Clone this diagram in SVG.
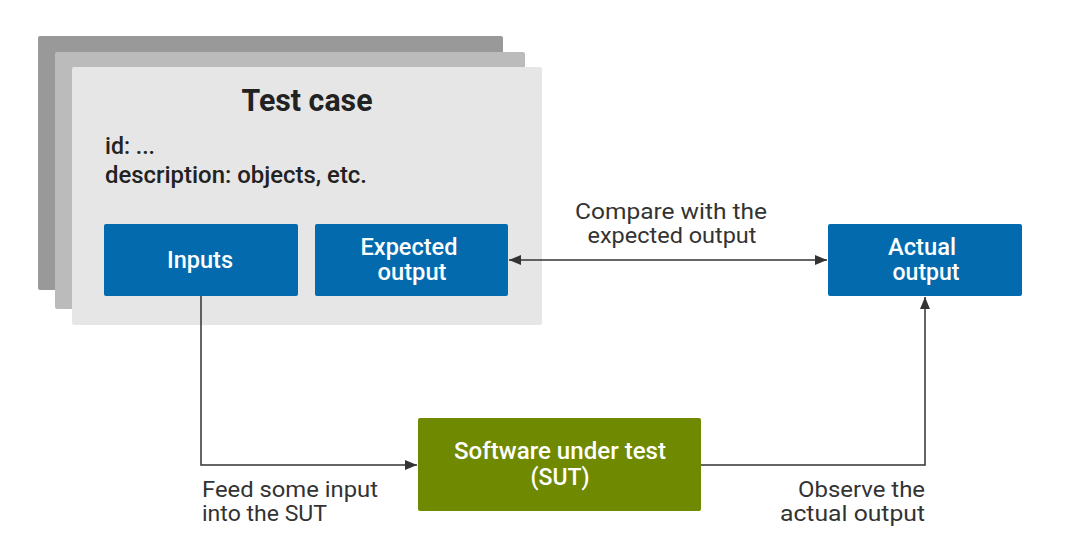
<svg xmlns="http://www.w3.org/2000/svg" width="1092" height="542" viewBox="0 0 1092 542">
<style>
.card{stroke:none}
.blue{fill:#036aae}
.green{fill:#6f8a00}
.lbl{font-family:Roboto,"Liberation Sans",sans-serif;font-weight:500;font-size:23px;fill:#ffffff;text-anchor:middle}
.edge{font-family:Roboto,"Liberation Sans",sans-serif;font-size:22px;fill:#333333}
.body{font-family:Roboto,"Liberation Sans",sans-serif;font-weight:500;font-size:23px;fill:#222222}
.conn{fill:none;stroke:#333333;stroke-width:1.5}
</style>
<defs>
<marker id="ah" viewBox="0 0 12 10" refX="12" refY="5" markerWidth="12" markerHeight="10" markerUnits="userSpaceOnUse" orient="auto-start-reverse">
<path d="M0,0 L12,5 L0,10 Z" fill="#333333"/>
</marker>
</defs>
<rect width="1092" height="542" fill="#ffffff"/>
<g id="testcase">
<rect class="card" x="38" y="36" width="465" height="254" rx="2" fill="#999999"/>
<rect class="card" x="55" y="52" width="470" height="257" rx="2" fill="#bbbbbb"/>
<rect class="card" x="72" y="67" width="470" height="258" rx="2" fill="#e6e6e6"/>
<text x="307" y="111" font-family="Roboto,'Liberation Sans',sans-serif" font-weight="700" font-size="31" fill="#222222" text-anchor="middle" textLength="131" lengthAdjust="spacingAndGlyphs">Test case</text>
<text class="body" x="105" y="154" textLength="50" lengthAdjust="spacingAndGlyphs">id: ...</text>
<text class="body" x="105" y="183" textLength="262" lengthAdjust="spacingAndGlyphs">description: objects, etc.</text>
</g>
<g id="inputs">
<rect class="blue" x="104" y="224" width="194" height="72" rx="2"/>
<text class="lbl" x="200" y="268" textLength="66" lengthAdjust="spacingAndGlyphs">Inputs</text>
</g>
<g id="expected">
<rect class="blue" x="315" y="224" width="193" height="72" rx="2"/>
<text class="lbl" x="409" y="255" textLength="97" lengthAdjust="spacingAndGlyphs">Expected</text>
<text class="lbl" x="412" y="280" textLength="69" lengthAdjust="spacingAndGlyphs">output</text>
</g>
<g id="actual">
<rect class="blue" x="828" y="224" width="194" height="72" rx="2"/>
<text class="lbl" x="922" y="255" textLength="68" lengthAdjust="spacingAndGlyphs">Actual</text>
<text class="lbl" x="926" y="280" textLength="67" lengthAdjust="spacingAndGlyphs">output</text>
</g>
<g id="sut">
<rect class="green" x="418" y="418" width="283" height="93" rx="2"/>
<text class="lbl" x="560" y="459" textLength="212" lengthAdjust="spacingAndGlyphs">Software under test</text>
<text class="lbl" x="560" y="485" textLength="59" lengthAdjust="spacingAndGlyphs">(SUT)</text>
</g>
<g id="connectors">
<line class="conn" x1="509" y1="260" x2="827" y2="260" marker-start="url(#ah)" marker-end="url(#ah)"/>
<polyline class="conn" points="201,296 201,465 417,465" marker-end="url(#ah)"/>
<polyline class="conn" points="701,465 925,465 925,297" marker-end="url(#ah)"/>
<text class="edge" x="671" y="219" text-anchor="middle" textLength="192" lengthAdjust="spacingAndGlyphs">Compare with the</text>
<text class="edge" x="672" y="243" text-anchor="middle" textLength="169" lengthAdjust="spacingAndGlyphs">expected output</text>
<text class="edge" x="202" y="497" textLength="176" lengthAdjust="spacingAndGlyphs">Feed some input</text>
<text class="edge" x="202" y="521" textLength="125" lengthAdjust="spacingAndGlyphs">into the SUT</text>
<text class="edge" x="925" y="497" text-anchor="end" textLength="127" lengthAdjust="spacingAndGlyphs">Observe the</text>
<text class="edge" x="925" y="521" text-anchor="end" textLength="145" lengthAdjust="spacingAndGlyphs">actual output</text>
</g>
</svg>
